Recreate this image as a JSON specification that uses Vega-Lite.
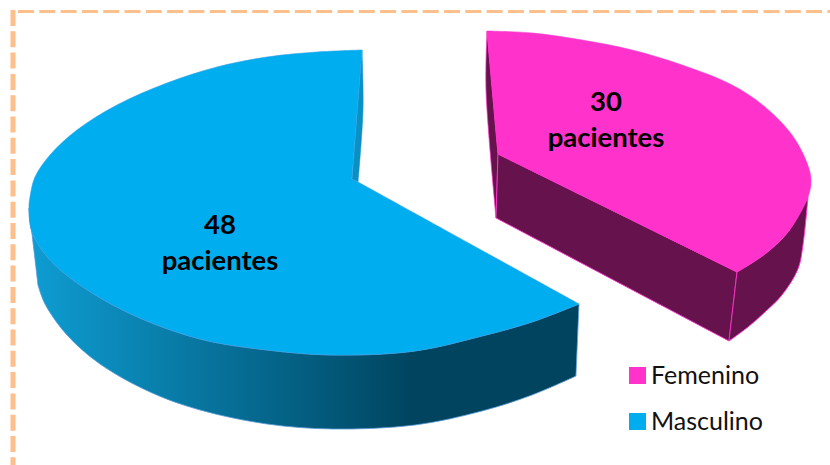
{
  "$schema": "https://vega.github.io/schema/vega-lite/v6.json",
  "width": 830,
  "height": 465,
  "padding": 0,
  "autosize": {"type": "none"},
  "background": "white",
  "config": {"view": {"stroke": null}},
  "datasets": {
    "marcoSuperior": [{"x": 18, "x2": 830, "y": 11.5}],
    "marcoIzquierdo": [{"x": 13, "y": 10, "y2": 465}],
    "paredAzul": [
      {"i":1,"x":29,"y":208},{"i":2,"x":29,"y":208},{"i":3,"x":32,"y":232},{"i":4,"x":50,"y":260},{"i":5,"x":83,"y":287},{"i":6,"x":133,"y":315},{"i":7,"x":200,"y":339},{"i":8,"x":267,"y":350},{"i":9,"x":333,"y":355},{"i":10,"x":415,"y":351},{"i":11,"x":482,"y":336},{"i":12,"x":532,"y":322},{"i":13,"x":579,"y":304},{"i":14,"x":579,"y":304},
      {"i":15,"x":576,"y":376},{"i":16,"x":576,"y":376},{"i":17,"x":532,"y":395},{"i":18,"x":482,"y":411},{"i":19,"x":415,"y":425},{"i":20,"x":333,"y":429},{"i":21,"x":267,"y":424},{"i":22,"x":200,"y":410},{"i":23,"x":150,"y":392},{"i":24,"x":100,"y":364},{"i":25,"x":67,"y":335},{"i":26,"x":45,"y":304},{"i":27,"x":38,"y":285},{"i":28,"x":38,"y":285},{"i":29,"x":29,"y":208}
    ],
    "corteAzul": [
      {"i":1,"x":362,"y":50},{"i":2,"x":363,"y":110},{"i":3,"x":358,"y":182},{"i":4,"x":358,"y":182},{"i":5,"x":352,"y":179},{"i":6,"x":352,"y":179},{"i":7,"x":362,"y":50}
    ],
    "paredFrontalRosa": [
      {"i":1,"x":498,"y":154},{"i":2,"x":498,"y":154},{"i":3,"x":737,"y":272},{"i":4,"x":737,"y":272},{"i":5,"x":729,"y":341},{"i":6,"x":729,"y":341},{"i":7,"x":496,"y":218},{"i":8,"x":496,"y":218},{"i":9,"x":498,"y":154}
    ],
    "paredCurvaRosa": [
      {"i":1,"x":737,"y":272},{"i":2,"x":765,"y":254},{"i":3,"x":788,"y":232},{"i":4,"x":808,"y":197},{"i":5,"x":808,"y":197},{"i":6,"x":803,"y":245},{"i":7,"x":798,"y":269},{"i":8,"x":782,"y":295},{"i":9,"x":765,"y":312},{"i":10,"x":748,"y":327},{"i":11,"x":729,"y":341},{"i":12,"x":729,"y":341},{"i":13,"x":737,"y":272}
    ],
    "corteRosa": [
      {"i":1,"x":487,"y":31},{"i":2,"x":487,"y":31},{"i":3,"x":486,"y":90},{"i":4,"x":496,"y":218},{"i":5,"x":496,"y":218},{"i":6,"x":498,"y":154},{"i":7,"x":498,"y":154},{"i":8,"x":487,"y":31}
    ],
    "caras": [
      {"sexo":"Femenino","i":1,"x":487,"y":31},{"sexo":"Femenino","i":2,"x":487,"y":31},{"sexo":"Femenino","i":3,"x":532,"y":33},{"sexo":"Femenino","i":4,"x":582,"y":40},{"sexo":"Femenino","i":5,"x":632,"y":50},{"sexo":"Femenino","i":6,"x":682,"y":65},{"sexo":"Femenino","i":7,"x":732,"y":85},{"sexo":"Femenino","i":8,"x":765,"y":107},{"sexo":"Femenino","i":9,"x":792,"y":135},{"sexo":"Femenino","i":10,"x":807,"y":163},{"sexo":"Femenino","i":11,"x":811,"y":180},{"sexo":"Femenino","i":12,"x":808,"y":197},{"sexo":"Femenino","i":13,"x":788,"y":232},{"sexo":"Femenino","i":14,"x":765,"y":254},{"sexo":"Femenino","i":15,"x":737,"y":272},{"sexo":"Femenino","i":16,"x":737,"y":272},{"sexo":"Femenino","i":17,"x":498,"y":154},{"sexo":"Femenino","i":18,"x":498,"y":154},{"sexo":"Femenino","i":19,"x":487,"y":31},
      {"sexo":"Masculino","i":1,"x":362,"y":50},{"sexo":"Masculino","i":2,"x":362,"y":50},{"sexo":"Masculino","i":3,"x":317,"y":52},{"sexo":"Masculino","i":4,"x":267,"y":57},{"sexo":"Masculino","i":5,"x":217,"y":67},{"sexo":"Masculino","i":6,"x":167,"y":83},{"sexo":"Masculino","i":7,"x":117,"y":105},{"sexo":"Masculino","i":8,"x":77,"y":130},{"sexo":"Masculino","i":9,"x":50,"y":155},{"sexo":"Masculino","i":10,"x":35,"y":177},{"sexo":"Masculino","i":11,"x":30,"y":197},{"sexo":"Masculino","i":12,"x":29,"y":208},{"sexo":"Masculino","i":13,"x":32,"y":232},{"sexo":"Masculino","i":14,"x":50,"y":260},{"sexo":"Masculino","i":15,"x":83,"y":287},{"sexo":"Masculino","i":16,"x":133,"y":315},{"sexo":"Masculino","i":17,"x":200,"y":339},{"sexo":"Masculino","i":18,"x":267,"y":350},{"sexo":"Masculino","i":19,"x":333,"y":355},{"sexo":"Masculino","i":20,"x":415,"y":351},{"sexo":"Masculino","i":21,"x":482,"y":336},{"sexo":"Masculino","i":22,"x":532,"y":322},{"sexo":"Masculino","i":23,"x":579,"y":304},{"sexo":"Masculino","i":24,"x":579,"y":304},{"sexo":"Masculino","i":25,"x":358,"y":182},{"sexo":"Masculino","i":26,"x":358,"y":182},{"sexo":"Masculino","i":27,"x":352,"y":179},{"sexo":"Masculino","i":28,"x":352,"y":179},{"sexo":"Masculino","i":29,"x":362,"y":50}
    ],
    "etiquetas": [
      {"sexo":"Masculino","pacientes":48,"texto":"48\npacientes","x":220,"y":226},
      {"sexo":"Femenino","pacientes":30,"texto":"30\npacientes","x":606,"y":103}
    ]
  },
  "encoding": {
    "x": {"field": "x", "type": "quantitative", "axis": null, "scale": {"domain": [0, 830], "range": [0, 830], "nice": false, "zero": false}},
    "y": {"field": "y", "type": "quantitative", "axis": null, "scale": {"domain": [465, 0], "range": [465, 0], "nice": false, "zero": false}}
  },
  "layer": [
    {
      "data": {"name": "marcoSuperior"},
      "mark": {"type": "rule", "stroke": "#FDC08C", "strokeWidth": 3, "strokeDash": [16, 5.3]},
      "encoding": {"x2": {"field": "x2"}}
    },
    {
      "data": {"name": "marcoIzquierdo"},
      "mark": {"type": "rule", "stroke": "#FDC08C", "strokeWidth": 5, "strokeDash": [16, 5.3]},
      "encoding": {"y2": {"field": "y2"}}
    },
    {
      "data": {"name": "paredAzul"},
      "mark": {
        "type": "line", "filled": true, "interpolate": "catmull-rom", "strokeWidth": 0.8, "stroke": "#5B9BD5",
        "fill": {"gradient": "linear", "x1": 0, "y1": 0, "x2": 1, "y2": 0, "stops": [
          {"offset": 0, "color": "#0E9DD3"},
          {"offset": 0.7, "color": "#00445F"},
          {"offset": 1, "color": "#00445F"}
        ]}
      },
      "encoding": {"order": {"field": "i"}}
    },
    {
      "data": {"name": "corteAzul"},
      "mark": {"type": "line", "filled": true, "interpolate": "catmull-rom", "fill": "#0A90C4", "stroke": "#0A90C4", "strokeWidth": 0.5},
      "encoding": {"order": {"field": "i"}}
    },
    {
      "data": {"name": "corteRosa"},
      "mark": {"type": "line", "filled": true, "interpolate": "catmull-rom", "fill": "#66134D", "stroke": "#FF33CC", "strokeWidth": 0.7},
      "encoding": {"order": {"field": "i"}}
    },
    {
      "data": {"name": "paredFrontalRosa"},
      "mark": {"type": "line", "filled": true, "interpolate": "catmull-rom", "fill": "#66134D", "stroke": "#FF33CC", "strokeWidth": 0.9},
      "encoding": {"order": {"field": "i"}}
    },
    {
      "data": {"name": "paredCurvaRosa"},
      "mark": {"type": "line", "filled": true, "interpolate": "catmull-rom", "fill": "#66134D", "stroke": "#FF33CC", "strokeWidth": 0.9},
      "encoding": {"order": {"field": "i"}}
    },
    {
      "data": {"name": "caras"},
      "mark": {"type": "line", "filled": true, "interpolate": "catmull-rom", "strokeWidth": 0.6},
      "encoding": {
        "order": {"field": "i"},
        "detail": {"field": "sexo"},
        "fill": {
          "field": "sexo", "type": "nominal",
          "scale": {"domain": ["Femenino", "Masculino"], "range": ["#FF33CC", "#00ADEF"]},
          "legend": {
            "title": null, "orient": "none", "legendX": 625, "legendY": 363,
            "symbolType": "square", "symbolSize": 289, "symbolStrokeWidth": 0,
            "labelFont": "Lato", "labelFontSize": 25, "labelColor": "#111111", "labelOffset": 1,
            "rowPadding": 20, "labelLimit": 200
          }
        },
        "stroke": {
          "field": "sexo", "type": "nominal",
          "scale": {"domain": ["Femenino", "Masculino"], "range": ["#FF33CC", "#2F9FE8"]},
          "legend": null
        }
      }
    },
    {
      "data": {"name": "etiquetas"},
      "mark": {"type": "text", "font": "Lato", "fontWeight": "bold", "fontSize": 27.5, "color": "#000000", "lineBreak": "\n", "lineHeight": 36, "align": "center", "baseline": "middle"},
      "encoding": {
        "text": {"field": "texto"}
      }
    }
  ]
}
